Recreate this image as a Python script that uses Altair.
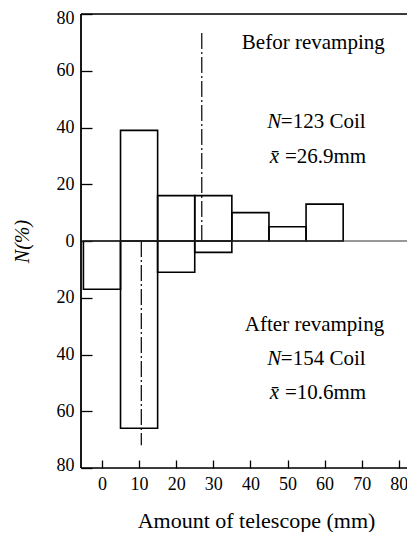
import altair as alt
import pandas as pd

# ---- data ----
bin_left = [5, 15, 25, 35, 45, 55]
bin_right = [15, 25, 35, 45, 55, 65]
before_pct = [39, 16, 16, 10, 5, 13]

after_left = [-5, 5, 15, 25]
after_right = [5, 15, 25, 35]
after_pct = [17, 66, 11, 4]

mean_before = 26.9
mean_after = 10.6
mean_line_len = [74, 72]

x_ticks = [0, 10, 20, 30, 40, 50, 60, 70, 80]
y_ticks = [-80, -60, -40, -20, 0, 20, 40, 60, 80]

XMIN, XMAX = -5.65, 82.2
YMIN, YMAX = -80, 80
FONT = "Liberation Serif"

rows = []
for a, b, v in zip(bin_left, bin_right, before_pct):
    rows.append({"x0": a, "x1": b, "y0": 0, "y1": v})
for a, b, v in zip(after_left, after_right, after_pct):
    rows.append({"x0": a, "x1": b, "y0": 0, "y1": -v})
bars_df = pd.DataFrame(rows)

means_df = pd.DataFrame({
    "m": [mean_before, mean_after],
    "y0": [0, 0],
    "y1": [mean_line_len[0], -mean_line_len[1]],
})

xs = alt.Scale(domain=[XMIN, XMAX], nice=False, zero=False)
ys = alt.Scale(domain=[YMIN, YMAX], nice=False, zero=False)

x_axis = alt.Axis(values=x_ticks, offset=-8, tickSize=8, tickColor="black", tickWidth=1.3,
                  domain=False, grid=False, labelFont=FONT, labelFontSize=18, labelColor="black",
                  labelPadding=7, title="Amount of telescope (mm)", titleFont=FONT,
                  titleFontSize=22, titleFontWeight="normal", titleColor="black",
                  titlePadding=17, titleX=175)
y_axis = alt.Axis(values=y_ticks, labelExpr="abs(datum.value)", offset=-11, tickSize=11,
                  tickColor="black", tickWidth=1.3, domain=False, grid=False, labelFont=FONT,
                  labelFontSize=18, labelColor="black", labelPadding=7,
                  labelOffset={"condition": [{"test": "datum.value == 80", "value": 4},
                                             {"test": "datum.value == -80", "value": -3}],
                               "value": 0},
                  title="N(%)",
                  titleFont=FONT, titleFontSize=20, titleFontWeight="normal",
                  titleFontStyle="italic", titleColor="black", titlePadding=24)

bars = alt.Chart(bars_df).mark_rect(fillOpacity=0, stroke="black", strokeWidth=1.6).encode(
    x=alt.X("x0:Q", scale=xs, axis=x_axis),
    x2="x1:Q",
    y=alt.Y("y0:Q", scale=ys, axis=y_axis),
    y2="y1:Q",
)

means = alt.Chart(means_df).mark_rule(color="black", strokeWidth=1.2,
                                      strokeDash=[16, 3, 2, 3]).encode(
    x=alt.X("m:Q", scale=xs), y=alt.Y("y0:Q", scale=ys), y2="y1:Q")

frame_h = alt.Chart(pd.DataFrame({"y": [YMAX, YMIN]})).mark_rule(
    color="black", strokeWidth=1.5).encode(y=alt.Y("y:Q", scale=ys))
zero_line = alt.Chart(pd.DataFrame({"y": [0]})).mark_rule(
    color="#333333", strokeWidth=1.2).encode(y=alt.Y("y:Q", scale=ys))
frame_v = alt.Chart(pd.DataFrame({"x": [XMIN]})).mark_rule(
    color="black", strokeWidth=1.8).encode(x=alt.X("x:Q", scale=xs))

# annotations (data coordinates)
normal_left = pd.DataFrame({
    "x": [37.7, 38.5, 48.2, 48.2, 49.3, 49.3],
    "y": [69.8, -29.7, 41.8, -41.5, 29.7, -53.4],
    "t": ["Befor revamping", "After revamping", "=123 Coil", "=154 Coil",
          "=26.9mm", "=10.6mm"],
})
ital = pd.DataFrame({
    "x": [48.3, 48.3, 47.7, 47.7],
    "y": [41.8, -41.5, 29.7, -53.4],
    "t": ["N", "N", "x\u0304", "x\u0304"],
})

txt_n = alt.Chart(normal_left).mark_text(align="left", baseline="middle", font=FONT,
                                         fontSize=21, color="black").encode(
    x=alt.X("x:Q", scale=xs), y=alt.Y("y:Q", scale=ys), text="t:N")
txt_i = alt.Chart(ital).mark_text(align="right", baseline="middle", font=FONT, fontSize=21,
                                  fontStyle="italic", color="black").encode(
    x=alt.X("x:Q", scale=xs), y=alt.Y("y:Q", scale=ys), text="t:N")

chart = alt.layer(bars, means, frame_h, zero_line, frame_v, txt_n, txt_i).properties(
    width=326, height=454,
    autosize=alt.AutoSizeParams(type="none"),
    padding={"left": 73, "top": 6, "right": 0, "bottom": 64},
).configure_view(stroke=None).configure(background="white")

chart.save("out.html", embed_options={"renderer": "svg", "actions": False})
